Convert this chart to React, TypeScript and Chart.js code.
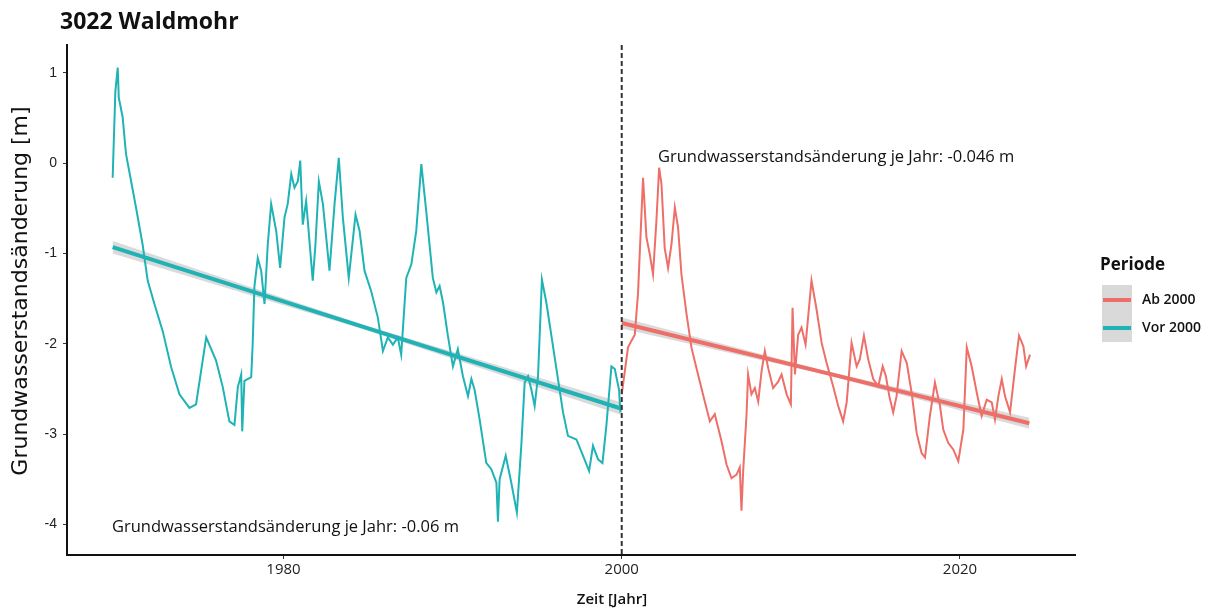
import React, { useEffect, useRef } from "react";
import { Chart, registerables } from "chart.js";

Chart.register(...registerables);

// ---- Data ----
const vorYears = [1969.9, 1970.06, 1970.2, 1970.26, 1970.49, 1970.69, 1970.99, 1971.28, 1971.67, 1971.97, 1972.37, 1972.86, 1973.36, 1973.85, 1974.44, 1974.83, 1975.13, 1975.43, 1976.02, 1976.41, 1976.8, 1977.1, 1977.3, 1977.5, 1977.56, 1977.69, 1978.09, 1978.18, 1978.28, 1978.48, 1978.68, 1978.88, 1979.07, 1979.27, 1979.57, 1979.8, 1980.06, 1980.25, 1980.46, 1980.65, 1980.85, 1980.99, 1981.14, 1981.34, 1981.73, 1981.89, 1982.09, 1982.33, 1982.72, 1983.02, 1983.27, 1983.51, 1983.86, 1984.26, 1984.5, 1984.79, 1985.19, 1985.58, 1985.88, 1986.17, 1986.47, 1986.76, 1986.96, 1987.26, 1987.56, 1987.85, 1988.15, 1988.44, 1988.83, 1989.04, 1989.23, 1989.43, 1989.72, 1990.02, 1990.31, 1990.61, 1990.91, 1991.11, 1991.3, 1991.6, 1991.99, 1992.29, 1992.59, 1992.68, 1992.78, 1993.14, 1993.47, 1993.8, 1994.07, 1994.26, 1994.46, 1994.66, 1994.85, 1995.05, 1995.28, 1995.54, 1995.84, 1996.14, 1996.53, 1996.82, 1997.32, 1997.71, 1998.07, 1998.3, 1998.6, 1998.86, 1999.09, 1999.39, 1999.59, 1999.84, 1999.92];
const vorValues = [-0.16, 0.8, 1.06, 0.73, 0.51, 0.1, -0.2, -0.49, -0.9, -1.3, -1.56, -1.86, -2.26, -2.56, -2.71, -2.67, -2.3, -1.93, -2.19, -2.48, -2.86, -2.9, -2.48, -2.34, -2.97, -2.41, -2.37, -2.0, -1.37, -1.05, -1.19, -1.56, -0.9, -0.45, -0.75, -1.16, -0.6, -0.45, -0.12, -0.27, -0.2, 0.03, -0.68, -0.42, -1.3, -0.9, -0.2, -0.45, -1.19, -0.45, 0.06, -0.6, -1.27, -0.57, -0.75, -1.19, -1.42, -1.71, -2.08, -1.93, -2.01, -1.93, -2.12, -1.27, -1.12, -0.75, -0.01, -0.53, -1.27, -1.43, -1.36, -1.54, -1.91, -2.25, -2.06, -2.36, -2.58, -2.39, -2.51, -2.84, -3.32, -3.39, -3.54, -3.97, -3.5, -3.24, -3.54, -3.87, -3.1, -2.43, -2.36, -2.51, -2.69, -2.36, -1.29, -1.54, -1.91, -2.28, -2.76, -3.02, -3.06, -3.24, -3.41, -3.13, -3.28, -3.32, -2.91, -2.25, -2.28, -2.51, -2.76];

const abYears = [2000.0, 2000.37, 2000.57, 2000.77, 2000.96, 2001.26, 2001.46, 2001.66, 2001.85, 2002.05, 2002.21, 2002.35, 2002.54, 2002.74, 2002.94, 2003.14, 2003.33, 2003.53, 2003.83, 2004.12, 2004.51, 2004.91, 2005.21, 2005.5, 2005.9, 2006.2, 2006.49, 2006.79, 2006.98, 2007.08, 2007.18, 2007.38, 2007.47, 2007.67, 2007.87, 2008.07, 2008.27, 2008.46, 2008.66, 2008.95, 2009.25, 2009.45, 2009.75, 2010.0, 2010.1, 2010.24, 2010.43, 2010.63, 2010.87, 2011.22, 2011.52, 2011.82, 2012.11, 2012.5, 2012.8, 2013.09, 2013.3, 2013.59, 2013.89, 2014.08, 2014.32, 2014.57, 2014.87, 2015.17, 2015.43, 2015.62, 2015.82, 2016.05, 2016.25, 2016.55, 2016.85, 2017.14, 2017.44, 2017.73, 2017.93, 2018.22, 2018.52, 2018.82, 2019.01, 2019.31, 2019.6, 2019.9, 2020.2, 2020.4, 2020.69, 2020.99, 2021.28, 2021.58, 2021.88, 2022.07, 2022.27, 2022.47, 2022.66, 2022.96, 2023.25, 2023.49, 2023.75, 2023.91, 2024.14];
const abValues = [-2.56, -2.04, -1.97, -1.9, -1.45, -0.16, -0.82, -1.01, -1.23, -0.64, -0.05, -0.23, -0.94, -1.16, -0.9, -0.49, -0.71, -1.23, -1.67, -2.04, -2.34, -2.64, -2.86, -2.78, -3.08, -3.34, -3.49, -3.45, -3.37, -3.85, -3.41, -2.78, -2.34, -2.56, -2.49, -2.64, -2.3, -2.08, -2.27, -2.49, -2.42, -2.34, -2.56, -2.67, -1.6, -2.34, -1.9, -1.82, -2.01, -1.3, -1.62, -1.99, -2.21, -2.47, -2.69, -2.86, -2.65, -1.99, -2.25, -2.17, -1.91, -2.17, -2.39, -2.47, -2.25, -2.36, -2.58, -2.76, -2.58, -2.08, -2.21, -2.54, -2.99, -3.21, -3.26, -2.8, -2.43, -2.69, -2.95, -3.1, -3.17, -3.3, -2.95, -2.04, -2.25, -2.54, -2.8, -2.62, -2.65, -2.84, -2.58, -2.39, -2.58, -2.76, -2.28, -1.91, -2.03, -2.25, -2.12];

// Linear trends (fit) and confidence bands
const vorTrendYears = [1969.9, 1985.0, 2000.0];
const vorTrendFit = [-0.93, -1.83, -2.72];
const vorTrendUpper = [-0.86, -1.805, -2.65];
const vorTrendLower = [-1.0, -1.855, -2.79];

const abTrendYears = [2000.0, 2012.0, 2024.1];
const abTrendFit = [-1.77, -2.32, -2.88];
const abTrendUpper = [-1.71, -2.3, -2.82];
const abTrendLower = [-1.83, -2.34, -2.94];

const xTicks = [1980, 2000, 2020];
const yTicks = [-4, -3, -2, -1, 0, 1];
const splitYear = 2000;

const TEAL = "#1FB3B5";
const RED = "#EE6E68";
const BAND = "rgba(150,150,150,0.35)";

const pts = (xs: number[], ys: number[]) => xs.map((x, i) => ({ x, y: ys[i] }));

export default function App() {
  const ref = useRef<HTMLCanvasElement | null>(null);

  useEffect(() => {
    if (!ref.current) return;
    const textPlugin = {
      id: "texts",
      afterDraw(chart: any) {
        const ctx = chart.ctx;
        ctx.save();
        ctx.fillStyle = "#111";
        ctx.textBaseline = "middle";
        // Title
        ctx.font = "bold 23px 'Open Sans'";
        ctx.textAlign = "left";
        ctx.fillText("3022 Waldmohr", 60, 22);
        // Y axis title
        ctx.save();
        ctx.translate(21, 291);
        ctx.rotate(-Math.PI / 2);
        ctx.textAlign = "center";
        ctx.font = "22px 'DejaVu Sans'";
        ctx.fillText("Grundwasserstandsänderung [m]", 0, 0);
        ctx.restore();
        // X axis title
        ctx.textAlign = "center";
        ctx.font = "600 15px 'Open Sans'";
        ctx.fillText("Zeit [Jahr]", 612, 600);
        // annotations
        ctx.textAlign = "left";
        ctx.font = "500 16.5px 'Open Sans'";
        ctx.fillText("Grundwasserstandsänderung je Jahr: -0.046 m", 658, 157);
        ctx.fillText("Grundwasserstandsänderung je Jahr: -0.06 m", 112, 527);
        // Legend
        ctx.font = "bold 17px 'Open Sans'";
        ctx.fillText("Periode", 1100, 265);
        ctx.fillStyle = "#d9d9d9";
        ctx.fillRect(1102, 285, 30, 57);
        ctx.lineWidth = 4;
        ctx.strokeStyle = RED;
        ctx.beginPath();
        ctx.moveTo(1103, 300);
        ctx.lineTo(1131, 300);
        ctx.stroke();
        ctx.strokeStyle = TEAL;
        ctx.beginPath();
        ctx.moveTo(1103, 328);
        ctx.lineTo(1131, 328);
        ctx.stroke();
        ctx.fillStyle = "#111";
        ctx.font = "600 14px 'Open Sans'";
        ctx.fillText("Ab 2000", 1142, 300);
        ctx.fillText("Vor 2000", 1142, 328);
        ctx.restore();
      },
    };

    const chart = new Chart(ref.current, {
      type: "line",
      data: {
        datasets: [
          { data: pts(vorTrendYears, vorTrendUpper), order: 4, borderWidth: 0, pointRadius: 0, fill: false, borderColor: "transparent" },
          { data: pts(vorTrendYears, vorTrendLower), order: 4, borderWidth: 0, pointRadius: 0, fill: "-1", backgroundColor: BAND, borderColor: "transparent" },
          { data: pts(abTrendYears, abTrendUpper), order: 4, borderWidth: 0, pointRadius: 0, fill: false, borderColor: "transparent" },
          { data: pts(abTrendYears, abTrendLower), order: 4, borderWidth: 0, pointRadius: 0, fill: "-1", backgroundColor: BAND, borderColor: "transparent" },
          { label: "Vor 2000", order: 3, data: pts(vorYears, vorValues), borderColor: TEAL, borderWidth: 2, pointRadius: 0, tension: 0, fill: false },
          { label: "Ab 2000", order: 3, data: pts(abYears, abValues), borderColor: RED, borderWidth: 2, pointRadius: 0, tension: 0, fill: false },
          { order: 2, data: pts(vorTrendYears, vorTrendFit), borderColor: TEAL, borderWidth: 4, pointRadius: 0, fill: false },
          { order: 2, data: pts(abTrendYears, abTrendFit), borderColor: RED, borderWidth: 4, pointRadius: 0, fill: false },
          { order: 1, data: [{ x: splitYear, y: 1.31 }, { x: splitYear, y: -4.34 }], borderColor: "#333", borderWidth: 2, borderDash: [5, 3], pointRadius: 0, fill: false },
        ],
      },
      options: {
        responsive: false,
        animation: false,
        layout: { padding: { top: 45, right: 138, left: 0, bottom: 0 } },
        plugins: { legend: { display: false }, tooltip: { enabled: false }, title: { display: false } },
        scales: {
          x: {
            type: "linear",
            min: 1967.2,
            max: 2026.8,
            afterBuildTicks: (s: any) => { s.ticks = xTicks.map((v) => ({ value: v })); },
            afterFit: (s: any) => { s.height = 54; },
            ticks: { color: "#222", font: { family: "'Open Sans'", size: 15, weight: "500" }, padding: 2, maxRotation: 0, callback: (v: any) => String(v) },
            grid: { drawOnChartArea: false, drawTicks: true, tickLength: 4, color: "#333" },
            border: { display: true, color: "#111", width: 2 },
          },
          y: {
            type: "linear",
            min: -4.34,
            max: 1.31,
            afterBuildTicks: (s: any) => { s.ticks = yTicks.map((v) => ({ value: v })); },
            afterFit: (s: any) => { s.width = 67; },
            ticks: { color: "#222", font: { family: "'Liberation Sans'", size: 14 }, padding: 6, callback: (v: any) => String(v) },
            grid: { drawOnChartArea: false, drawTicks: true, tickLength: 4, color: "#333" },
            border: { display: true, color: "#111", width: 2 },
          },
        },
      },
      plugins: [textPlugin],
    } as any);
    return () => chart.destroy();
  }, []);

  return (
    <div style={{ position: "fixed", left: 0, top: 0, width: 1213, height: 609, background: "#fff" }}>
      <canvas ref={ref} width={1213} height={609} style={{ width: 1213, height: 609, display: "block" }} />
    </div>
  );
}
